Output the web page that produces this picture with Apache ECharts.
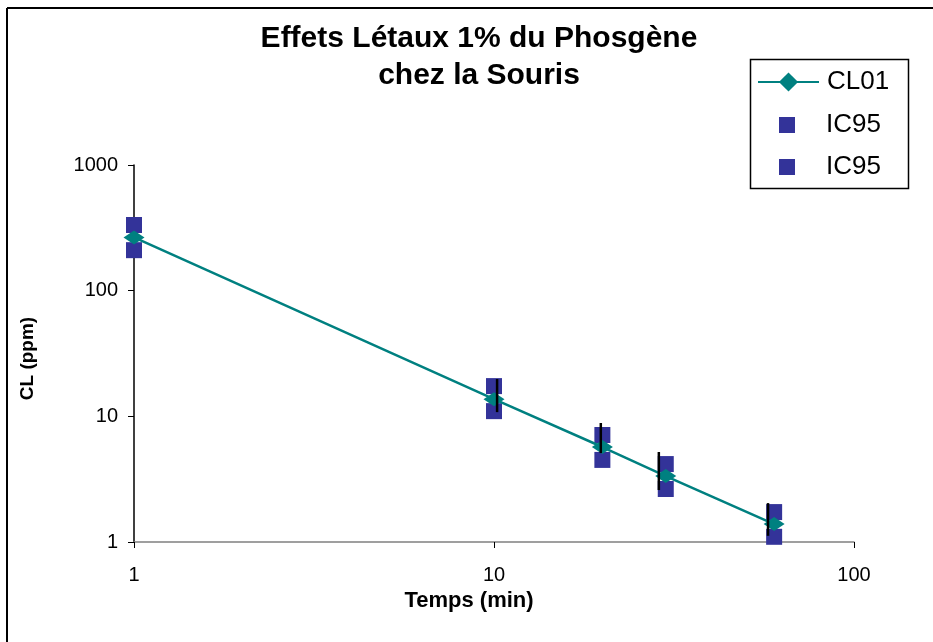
<!DOCTYPE html>
<html>
<head>
<meta charset="utf-8">
<script src="https://cdn.jsdelivr.net/npm/echarts@6/dist/echarts.min.js"></script>
<style>html,body{margin:0;padding:0;background:#fff}#c{width:933px;height:642px}</style>
</head>
<body>
<div id="c"></div>
<script>
// Data
const times = [1, 10, 20, 30, 60];
const cl01 = [265, 13.7, 5.7, 3.35, 1.39];
const ic95Upper = [333, 17.4, 7.1, 4.17, 1.73];
const ic95Lower = [210, 11.0, 4.5, 2.64, 1.10];
const errTimes = [10.2, 19.8, 28.7, 57.7];
const errLow = [10.8, 5.1, 2.59, 1.12];
const errHigh = [19.8, 8.85, 5.2, 2.04];
const xTicks = [1, 10, 100];
const yTicks = [1, 10, 100, 1000];

const font = 'Arial, "Liberation Sans", Helvetica, sans-serif';
const chart = echarts.init(document.getElementById('c'), null, {renderer: 'canvas'});

const zip = (a, b) => a.map((v, i) => [v, b[i]]);
const errData = errTimes.map((t, i) => [t, errLow[i], errHigh[i]]);
const sq = '#333399';

chart.setOption({
  animation: false,
  backgroundColor: '#ffffff',
  title: {
    text: 'Effets Létaux 1% du Phosgène\nchez la Souris',
    left: 474, top: 15, textAlign: 'center',
    textStyle: {fontFamily: font, fontWeight: 'bold', fontSize: 30, color: '#000', lineHeight: 37}
  },
  legend: [
    {
      orient: 'vertical', left: 757, top: 69,
      itemWidth: 61, itemHeight: 24, padding: 0,
      textStyle: {fontFamily: font, fontSize: 26, color: '#000', padding: [0, 0, 0, 3]},
      data: [{name: 'CL01'}]
    },
    {
      orient: 'vertical', left: 779, top: 112,
      itemWidth: 16, itemHeight: 16, itemGap: 16, padding: 0,
      textStyle: {fontFamily: font, fontSize: 26, color: '#000', padding: [0, 0, 0, 26]},
      formatter: n => n.trim(),
      data: [
        {name: 'IC95', icon: 'rect', itemStyle: {color: sq, borderWidth: 0}},
        {name: 'IC95 ', icon: 'rect', itemStyle: {color: sq, borderWidth: 0}}
      ]
    }
  ],
  graphic: [
    {type: 'rect', left: 748, top: 57, shape: {width: 158, height: 129}, style: {fill: null, stroke: '#000', lineWidth: 1.5}, z: -1},
    {type: 'line', shape: {x1: 7, y1: 8, x2: 933, y2: 8}, style: {stroke: '#000', lineWidth: 2}},
    {type: 'line', shape: {x1: 7, y1: 8, x2: 7, y2: 642}, style: {stroke: '#000', lineWidth: 2}}
  ],
  grid: {left: 134, top: 165, width: 720, height: 377, containLabel: false},
  xAxis: {
    type: 'log', logBase: 10, min: 1, max: 100,
    name: 'Temps (min)', nameLocation: 'middle', nameGap: 44,
    nameTextStyle: {fontFamily: font, fontWeight: 'bold', fontSize: 22, color: '#000', padding: [0, 50, 0, 0]},
    axisLine: {lineStyle: {color: '#808080', width: 1.5}},
    axisTick: {show: true, length: 6, lineStyle: {color: '#000'}},
    minorTick: {show: false},
    splitLine: {show: false},
    axisLabel: {fontFamily: font, fontSize: 20, color: '#000', margin: 23,
      formatter: v => xTicks.includes(Math.round(v)) ? String(Math.round(v)) : ''}
  },
  yAxis: {
    type: 'log', logBase: 10, min: 1, max: 1000,
    name: 'CL (ppm)', nameLocation: 'middle', nameGap: 97, nameRotate: 90,
    nameTextStyle: {fontFamily: font, fontWeight: 'bold', fontSize: 19, color: '#000', padding: [0, 10, 0, 0]},
    axisLine: {show: true, lineStyle: {color: '#000', width: 1.5}},
    axisTick: {show: true, length: 6, lineStyle: {color: '#000'}},
    splitLine: {show: false},
    axisLabel: {fontFamily: font, fontSize: 20, color: '#000', margin: 16,
      formatter: v => yTicks.includes(Math.round(v)) ? String(Math.round(v)) : ''}
  },
  series: [
    {
      name: 'IC95', type: 'scatter', data: zip(times, ic95Upper),
      symbol: 'rect', symbolSize: [16, 16],
      itemStyle: {color: sq, opacity: 1}, z: 2
    },
    {
      name: 'IC95 ', type: 'scatter', data: zip(times, ic95Lower),
      symbol: 'rect', symbolSize: [16, 16],
      itemStyle: {color: sq, opacity: 1}, z: 2
    },
    {
      name: 'CL01', type: 'line', data: zip(times, cl01),
      symbol: 'diamond', symbolSize: [21, 14], showAllSymbol: true,
      lineStyle: {color: '#008080', width: 2.5},
      itemStyle: {color: '#008080'}, z: 3
    },
    {
      name: 'err', type: 'custom', data: errData,
      encode: {x: 0, y: [1, 2]},
      renderItem: (params, api) => {
        const p1 = api.coord([api.value(0), api.value(1)]);
        const p2 = api.coord([api.value(0), api.value(2)]);
        return {type: 'line', shape: {x1: p1[0], y1: p1[1], x2: p2[0], y2: p2[1]},
          style: {stroke: '#000', lineWidth: 2.5}};
      },
      z: 4, silent: true
    }
  ]
});
</script>
</body>
</html>
